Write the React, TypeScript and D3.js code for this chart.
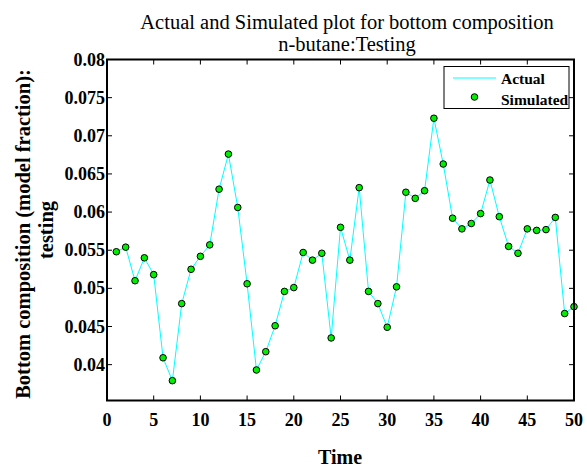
import React from "react";
import * as d3 from "d3";

// time steps 1..50 and the n-butane bottom composition
const timeSteps = d3.range(1, 51);
const simulated = [
  0.0548, 0.0554, 0.051, 0.054, 0.0518, 0.0409, 0.0379, 0.048, 0.0525, 0.0542,
  0.0557, 0.063, 0.0676, 0.0606, 0.0506, 0.0393, 0.0417, 0.0451, 0.0496, 0.0501,
  0.0547, 0.0537, 0.0546, 0.0435, 0.058, 0.0537, 0.0632, 0.0496, 0.048, 0.0449,
  0.0502, 0.0626, 0.0618, 0.0628, 0.0723, 0.0663, 0.0592, 0.0578, 0.0585, 0.0598,
  0.0642, 0.0594, 0.0555, 0.0546, 0.0578, 0.0576, 0.0577, 0.0593, 0.0467, 0.0476,
];
const actual = simulated; // actual and simulated overlap on this plot

const xTicks = [0, 5, 10, 15, 20, 25, 30, 35, 40, 45, 50];
const yTicks = [0.04, 0.045, 0.05, 0.055, 0.06, 0.065, 0.07, 0.075, 0.08];
const yTickLabels = ["0.04", "0.045", "0.05", "0.055", "0.06", "0.065", "0.07", "0.075", "0.08"];

const W = 587;
const H = 468;
const left = 107;
const right = 574;
const top = 59.5;
const bottom = 400.5;
const serif = "'Liberation Serif', 'Times New Roman', serif";

export default function App() {
  const x = d3.scaleLinear().domain([0, 50]).range([left, right]);
  const y = d3.scaleLinear().domain([0.0353, 0.08]).range([bottom, top]);

  const line = d3
    .line<number>()
    .x((_, i) => x(timeSteps[i]))
    .y((d) => y(d));

  const tickLen = 5;

  return (
    <svg
      width={W}
      height={H}
      style={{ position: "absolute", left: 0, top: 0, background: "#fff" }}
      fontFamily={serif}
    >
      <rect width={W} height={H} fill="#fff" />

      {/* title */}
      <text x={347} y={29} textAnchor="middle" fontSize={20.5}>
        Actual and Simulated plot for bottom composition
      </text>
      <text x={347} y={51} textAnchor="middle" fontSize={20.5}>
        n-butane:Testing
      </text>

      {/* data */}
      <path d={line(actual) || ""} fill="none" stroke="#00ffff" strokeWidth={1} />
      {simulated.map((v, i) => (
        <circle
          key={i}
          cx={x(timeSteps[i])}
          cy={y(v)}
          r={3.3}
          fill="#00ee00"
          stroke="#000"
          strokeWidth={1}
        />
      ))}

      {/* ticks (inward, all four sides) */}
      {xTicks.map((t) => (
        <g key={"x" + t} stroke="#000" strokeWidth={1}>
          <line x1={x(t)} x2={x(t)} y1={bottom} y2={bottom - tickLen} />
          <line x1={x(t)} x2={x(t)} y1={top} y2={top + tickLen} />
        </g>
      ))}
      {yTicks.map((t) => (
        <g key={"y" + t} stroke="#000" strokeWidth={1}>
          <line x1={left} x2={left + tickLen} y1={y(t)} y2={y(t)} />
          <line x1={right} x2={right - tickLen} y1={y(t)} y2={y(t)} />
        </g>
      ))}

      {/* frame */}
      <rect
        x={left}
        y={top}
        width={right - left}
        height={bottom - top}
        fill="none"
        stroke="#000"
        strokeWidth={2}
      />

      {/* tick labels */}
      {xTicks.map((t) => (
        <text
          key={"xl" + t}
          x={x(t)}
          y={426}
          textAnchor="middle"
          fontSize={18}
          fontWeight="bold"
        >
          {t}
        </text>
      ))}
      {yTicks.map((t, i) => (
        <text
          key={"yl" + t}
          x={left - 2}
          y={y(t) + 6}
          textAnchor="end"
          fontSize={18}
          fontWeight="bold"
        >
          {yTickLabels[i]}
        </text>
      ))}

      {/* axis labels */}
      <text x={340} y={464} textAnchor="middle" fontSize={20} fontWeight="bold">
        Time
      </text>
      <text
        transform={`translate(30,234) rotate(-90)`}
        textAnchor="middle"
        fontSize={20.5}
        fontWeight="bold"
      >
        Bottom composition (model fraction):
      </text>
      <text
        transform={`translate(53,230) rotate(-90)`}
        textAnchor="middle"
        fontSize={20.5}
        fontWeight="bold"
      >
        testing
      </text>

      {/* legend */}
      <g>
        <rect x={444} y={66.5} width={125} height={42} fill="#fff" stroke="#000" strokeWidth={1} />
        <line x1={453} x2={496} y1={78} y2={78} stroke="#00ffff" strokeWidth={1} />
        <text x={501} y={84} fontSize={15.5} fontWeight="bold">
          Actual
        </text>
        <circle cx={474.5} cy={97} r={3.3} fill="#00ee00" stroke="#000" strokeWidth={1} />
        <text x={501} y={105} fontSize={15.5} fontWeight="bold">
          Simulated
        </text>
      </g>
    </svg>
  );
}
